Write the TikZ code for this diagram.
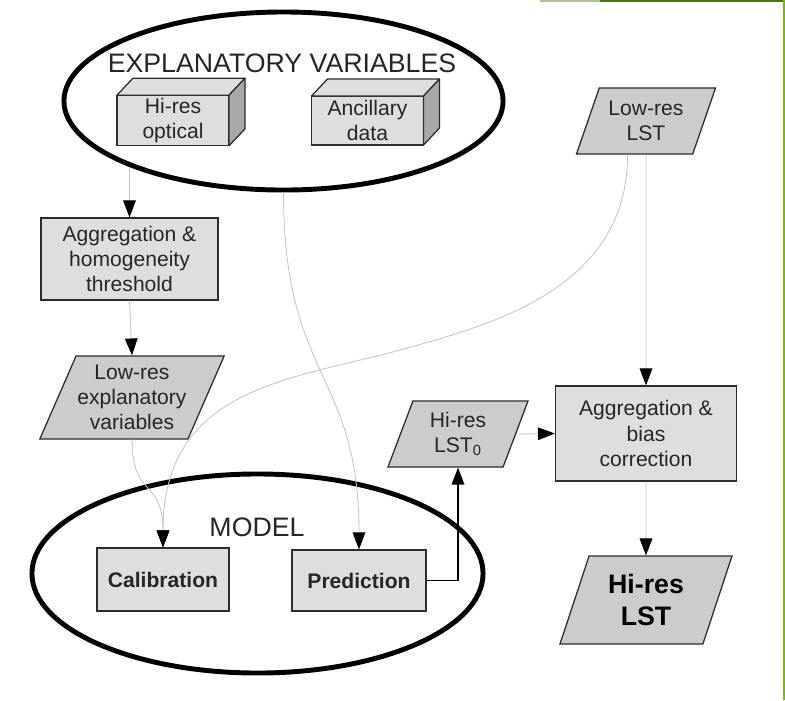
\documentclass[tikz,border=0pt]{standalone}
\usepackage{fontspec}
\setmainfont{Liberation Sans}
\usetikzlibrary{shapes.geometric,arrows.meta,positioning,calc}
\definecolor{boxgray}{RGB}{222,222,222}
\definecolor{datagray}{RGB}{204,204,204}
\definecolor{sidegray}{RGB}{168,168,168}
\definecolor{edgegray}{RGB}{45,45,45}
\definecolor{linkgray}{RGB}{196,196,196}
\definecolor{framegreen}{RGB}{72,118,24}
\definecolor{framelime}{RGB}{120,180,30}

\begin{document}
\begin{tikzpicture}[
  x=0.025cm,y=-0.025cm,
  box/.style={rectangle,draw=edgegray,fill=boxgray,line width=0.9pt,align=center,
    font=\fontsize{15}{18}\selectfont,text=black!85,inner sep=2pt},
  data/.style={trapezium,trapezium left angle=62,trapezium right angle=118,
    trapezium stretches body,draw=edgegray,fill=datagray,line width=0.9pt,align=center,
    font=\fontsize{15}{18}\selectfont,text=black!85,inner sep=1pt},
  group/.style={ellipse,draw=black,line width=3.5pt,inner sep=0pt},
  heading/.style={font=\fontsize{19}{22}\selectfont,text=black!85},
  link/.style={draw=linkgray,line width=0.6pt,-{Triangle[color=black,length=12pt,width=9pt]}},
  output/.style={draw=black,line width=0.9pt,-{Triangle[length=12pt,width=9pt]}}
]
  \useasboundingbox (0,0) rectangle (785,700);

  % groups
  \node[group,minimum width=10.975cm,minimum height=4.45cm] (explvars) at (283.5,101) {};
  \node[heading] (expltitle) at (282,63) {EXPLANATORY VARIABLES};
  \node[group,minimum width=11.275cm,minimum height=4.975cm] (model) at (257.5,573.5) {};
  \node[heading] (modeltitle) at (257,527) {MODEL};

  % inputs (drawn as blocks)
  \node[box,minimum width=2.8cm,minimum height=1.225cm,outer sep=0pt] (optical) at (173,120.5) {Hi-res\\optical};
  \node[box,minimum width=2.8cm,minimum height=1.225cm,outer sep=0pt] (ancillary) at (367.5,120.5) {Ancillary\\data};
  \foreach \blk in {optical,ancillary}{
    \draw[draw=edgegray,line width=0.9pt,fill=boxgray,line join=round]
      (\blk.north west) -- ([shift={(16,-17)}]\blk.north west)
      -- ([shift={(16,-17)}]\blk.north east) -- (\blk.north east) -- cycle;
    \draw[draw=edgegray,line width=0.9pt,fill=sidegray,line join=round]
      (\blk.north east) -- ([shift={(16,-17)}]\blk.north east)
      -- ([shift={(16,-17)}]\blk.south east) -- (\blk.south east) -- cycle;
  }
  \node[data,minimum width=3.475cm,minimum height=1.65cm] (lowlst) at (646,121) {Low-res\\LST};

  % processing
  \node[box,minimum width=4.425cm,minimum height=2.05cm] (agghomog) at (129.5,259) {Aggregation \&\\homogeneity\\threshold};
  \node[data,minimum width=4.425cm,minimum height=2.075cm] (lowexpl) at (132,397.5) {Low-res\\explanatory\\variables};
  \node[box,minimum width=3.3cm,minimum height=1.575cm,font=\bfseries\fontsize{15}{18}\selectfont] (calib) at (163,579.5) {Calibration};
  \node[box,minimum width=3.35cm,minimum height=1.525cm,font=\bfseries\fontsize{15}{18}\selectfont] (predict) at (359,580.5) {Prediction};
  \node[data,minimum width=3.5cm,minimum height=1.65cm] (lst0) at (458,434) {Hi-res\\LST\textsubscript{0}};
  \node[box,minimum width=4.525cm,minimum height=2.375cm] (aggbias) at (646,433.5) {Aggregation \&\\bias\\correction};
  \node[data,minimum width=4.3cm,minimum height=2.2cm,font=\bfseries\fontsize{19}{23}\selectfont,text=black] (hireslst) at (646,600) {Hi-res\\LST};

  % connectors
  \coordinate (lstbend) at (400,350);
  \draw[link] (explvars.203 -| agghomog.north) -- (agghomog.north);
  \draw[link] (agghomog.south) -- (lowexpl.north);
  \draw[link] (lowexpl.south) .. controls +(0,60) and +(0,-70) .. (calib.north);
  \draw[link] ([xshift=-0.46cm]lowlst.south) .. controls +(0,135) and (490,325) .. (lstbend)
    .. controls (290,380) and +(0,-160) .. (calib.north);
  \draw[link] (explvars.south) .. controls +(0,188) and +(0,-178) .. (predict.north);
  \draw[output] (predict.east) -| (lst0.south);
  \draw[link] (lst0.east) -- (aggbias.west);
  \draw[link] (lowlst.south) -- (aggbias.north);
  \draw[link] (aggbias.south) -- (hireslst.north);

  % window frame
  \draw[framegreen!45,line width=1.6pt] (540,1) -- (600,1);
  \draw[framegreen,line width=1.6pt] (600,1) -- (784,1);
  \draw[framelime,line width=0.8pt] (784,0) -- (784,700);
\end{tikzpicture}
\end{document}
